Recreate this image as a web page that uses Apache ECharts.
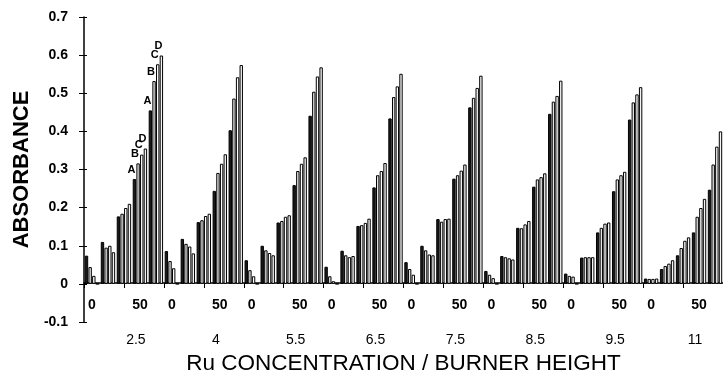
<!DOCTYPE html>
<html>
<head>
<meta charset="utf-8">
<script src="https://cdn.jsdelivr.net/npm/echarts@6/dist/echarts.min.js"></script>
<style>
  html, body { margin: 0; padding: 0; background: #fff; }
  #chart { width: 723px; height: 380px; }
</style>
</head>
<body>
<div id="chart"></div>
<script>
// Burner heights (outer groups) and the Ru concentration slots inside each group
const burnerHeights = ['2.5', '4', '5.5', '6.5', '7.5', '8.5', '9.5', '11'];
const concTickLabels = ['0', '', '', '50', ''];
const seriesNames = ['A', 'B', 'C', 'D'];

// Absorbance per series, 5 concentration slots for each burner height
const seriesA = [
  0.074, 0.110, 0.177, 0.275, 0.455,   // 2.5
  0.086, 0.118, 0.162, 0.244, 0.403,   // 4
  0.062, 0.100, 0.161, 0.259, 0.441,   // 5.5
  0.045, 0.087, 0.152, 0.253, 0.434,   // 6.5
  0.057, 0.100, 0.170, 0.276, 0.463,   // 7.5
  0.034, 0.073, 0.147, 0.255, 0.446,   // 8.5
  0.027, 0.069, 0.135, 0.243, 0.431,   // 9.5
  0.014, 0.039, 0.075, 0.135, 0.247    // 11
];
const seriesB = [
  0.044, 0.095, 0.184, 0.316, 0.532,
  0.060, 0.105, 0.167, 0.291, 0.486,
  0.036, 0.088, 0.165, 0.296, 0.504,
  0.020, 0.075, 0.154, 0.285, 0.490,
  0.039, 0.088, 0.163, 0.285, 0.488,
  0.024, 0.070, 0.146, 0.274, 0.478,
  0.021, 0.070, 0.147, 0.274, 0.476,
  0.013, 0.047, 0.094, 0.176, 0.313
];
const seriesC = [
  0.021, 0.100, 0.199, 0.339, 0.576,
  0.041, 0.098, 0.178, 0.315, 0.542,
  0.020, 0.081, 0.176, 0.315, 0.544,
  0.007, 0.070, 0.160, 0.296, 0.518,
  0.024, 0.077, 0.170, 0.297, 0.514,
  0.015, 0.067, 0.156, 0.280, 0.493,
  0.019, 0.070, 0.158, 0.285, 0.497,
  0.013, 0.053, 0.113, 0.199, 0.360
];
const seriesD = [
  0.000, 0.083, 0.210, 0.355, 0.599,
  0.000, 0.080, 0.184, 0.340, 0.574,
  0.000, 0.075, 0.180, 0.332, 0.568,
  0.000, 0.073, 0.171, 0.317, 0.551,
  0.000, 0.075, 0.171, 0.313, 0.546,
  0.000, 0.064, 0.165, 0.290, 0.533,
  0.000, 0.070, 0.161, 0.294, 0.516,
  0.014, 0.062, 0.122, 0.223, 0.400
];

// Value axis range
const yMin = -0.1, yMax = 0.7, yStep = 0.1;

const FONT = '"Liberation Sans", Arial, sans-serif';
const slotsPerGroup = concTickLabels.length;
const gridHeight = 312;
// lift the category axis from the bottom edge up to the zero line
const zeroOffset = -gridHeight * (0 - yMin) / (yMax - yMin);

// one category per (height, concentration) slot
const categories = [];
burnerHeights.forEach(h => concTickLabels.forEach((c, i) => categories.push(h + '-' + i)));
// half-slot categories, used only to place the burner height captions
const halfCategories = [];
for (let i = 0; i < categories.length * 2; i++) halfCategories.push(i);

// series A–D are lettered on the two highest-concentration clusters of the first group
const letteredSlots = [3, 4];
const fills = ['#1a1a1a', '#e4e4e4', '#ffffff', '#f4f4f4'];
const values = [seriesA, seriesB, seriesC, seriesD];

const series = values.map((arr, s) => ({
  name: seriesNames[s],
  type: 'bar',
  xAxisIndex: 0,
  yAxisIndex: 0,
  barGap: '8%',
  barCategoryGap: '10%',
  itemStyle: { color: fills[s], borderColor: '#000', borderWidth: 1 },
  label: {
    show: false, position: 'top', distance: 1, offset: [-3, -3],
    formatter: '{a}', fontFamily: FONT, fontSize: 11, fontWeight: 'bold', color: '#000'
  },
  emphasis: { disabled: true },
  animation: false,
  data: arr.map((v, i) => letteredSlots.includes(i) ? { value: v, label: { show: true } } : v)
}));

const chart = echarts.init(document.getElementById('chart'));
chart.setOption({
  animation: false,
  backgroundColor: '#fff',
  grid: { left: 84, top: 17, width: 644, height: gridHeight, containLabel: false },
  xAxis: [
    {
      type: 'category',
      data: categories,
      position: 'bottom',
      offset: zeroOffset,
      boundaryGap: true,
      axisLine: { onZero: false, lineStyle: { color: '#000', width: 1.5 } },
      axisTick: { show: false },
      axisLabel: {
        interval: 0, margin: 15, fontFamily: FONT, fontSize: 14, fontWeight: 'bold', color: '#000',
        formatter: (v, i) => concTickLabels[i % slotsPerGroup]
      },
      splitLine: { show: false }
    },
    {
      type: 'category',
      data: halfCategories,
      position: 'bottom',
      boundaryGap: true,
      axisLine: { show: false, onZero: false },
      axisTick: { show: false },
      axisLabel: {
        interval: 0, margin: 11, fontFamily: FONT, fontSize: 14, color: '#000',
        formatter: (v, i) => (i % (slotsPerGroup * 2) === 6) ? burnerHeights[Math.floor(i / (slotsPerGroup * 2))] : ''
      },
      name: 'Ru CONCENTRATION / BURNER HEIGHT',
      nameLocation: 'middle',
      nameGap: 30,
      nameTextStyle: { fontFamily: FONT, fontSize: 22.5, color: '#000' },
      splitLine: { show: false }
    },
    {
      // tick marks every half group along the zero line
      type: 'value',
      min: 0, max: burnerHeights.length * 2, interval: 1,
      position: 'bottom',
      offset: zeroOffset,
      axisLine: { show: false, onZero: false },
      axisTick: { show: true, inside: false, length: 5, lineStyle: { color: '#000', width: 1 } },
      axisLabel: { show: false },
      splitLine: { show: false }
    }
  ],
  yAxis: [
    {
      type: 'value',
      min: yMin, max: yMax, interval: yStep,
      position: 'left',
      axisLine: { show: true, onZero: false, lineStyle: { color: '#000', width: 1.5 } },
      axisTick: { show: true, inside: false, length: 5, lineStyle: { color: '#000', width: 1 } },
      axisLabel: { margin: 16, fontFamily: FONT, fontSize: 14, fontWeight: 'bold', color: '#000' },
      splitLine: { show: false },
      name: 'ABSORBANCE',
      nameLocation: 'middle',
      nameGap: 51,
      nameTextStyle: { fontFamily: FONT, fontSize: 22, fontWeight: 'bold', color: '#000' }
    },
    {
      type: 'value',
      min: yMin, max: yMax, interval: yStep,
      position: 'left',
      axisLine: { show: false, onZero: false },
      axisTick: { show: true, inside: true, length: 3, lineStyle: { color: '#000', width: 1 } },
      axisLabel: { show: false },
      splitLine: { show: false }
    }
  ],
  series: series
});
</script>
</body>
</html>
